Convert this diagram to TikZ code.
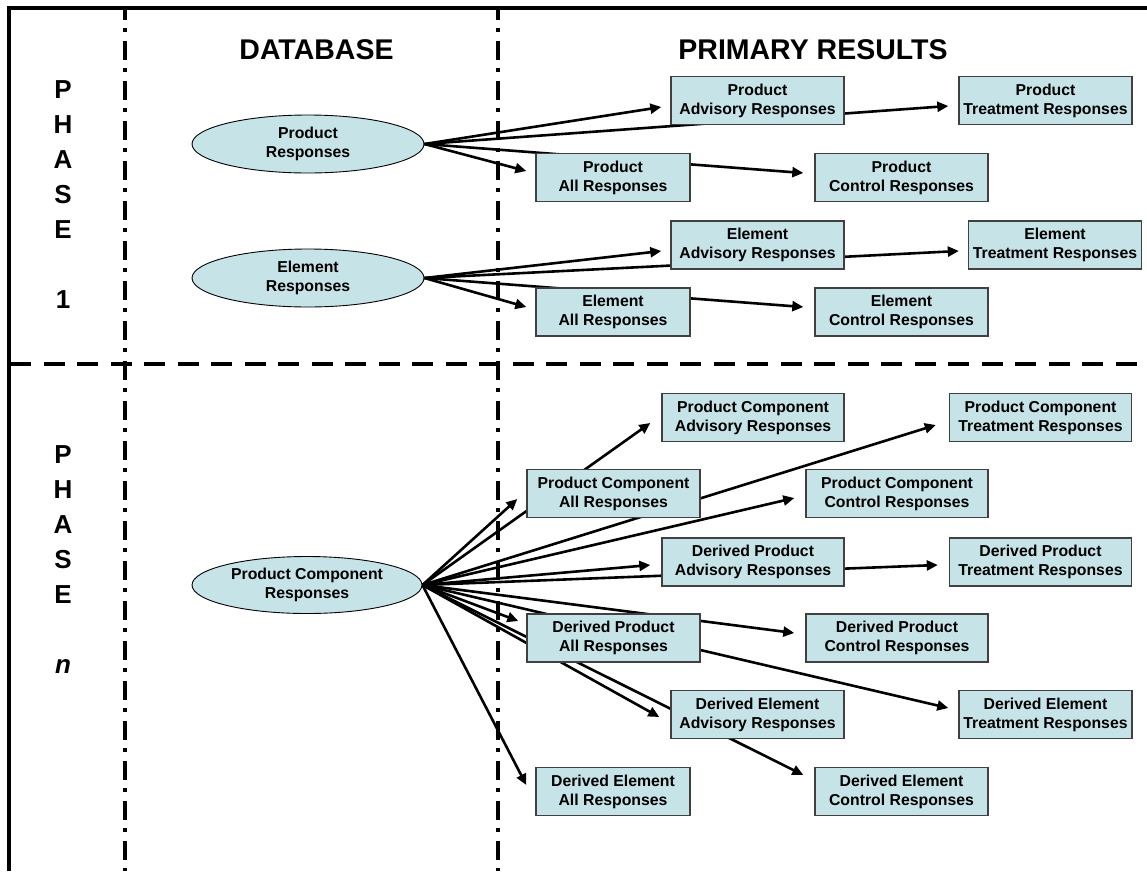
\documentclass[tikz,border=0pt]{standalone}
\usepackage{fontspec}
\setmainfont{Liberation Sans}
\usetikzlibrary{arrows.meta,shapes.geometric}
\definecolor{cellfill}{RGB}{198,228,232}
\definecolor{celledge}{RGB}{64,64,64}
\pgfdeclarelayer{back}
\pgfsetlayers{back,main}
\newcommand{\cellfont}{\fontsize{15.8}{19}\selectfont\bfseries}
\newcommand{\headfont}{\fontsize{28.5}{32}\selectfont\bfseries}
\newcommand{\phasefont}{\fontsize{26}{30}\selectfont\bfseries}

\begin{document}
\begin{tikzpicture}[x=1pt,y=-1pt,
  rbox/.style={draw=celledge,line width=1.4pt,fill=cellfill,minimum height=48pt,
               inner sep=0pt,align=center,font=\cellfont},
  wa/.style={minimum width=173pt},
  wb/.style={minimum width=154pt},
  wc/.style={minimum width=182pt},
  src/.style={ellipse,draw=black,line width=0.9pt,fill=cellfill,inner sep=0pt,
              minimum width=232pt,minimum height=58pt,align=center,font=\cellfont},
  arr/.style={line width=2.6pt,-{Triangle[length=11pt,width=10pt]}},
  head/.style={font=\headfont,anchor=base,inner sep=0pt},
  phasechar/.style={font=\phasefont,anchor=base,inner sep=0pt},
  dashdot/.style={line width=4pt,dash pattern=on 19pt off 8.5pt on 4pt off 8.5pt,dash phase=7.5pt},
  split/.style={line width=4pt,dash pattern=on 21pt off 12.5pt}
]
\useasboundingbox (0,0) rectangle (1147,871);

% frame and column / row separators
\begin{pgfonlayer}{back}
  \draw[line width=4.5pt] (9,871) -- (9,8) -- (1147,8);
  \draw[dashdot] (125,8) -- (125,871);
  \draw[dashdot] (498,8) -- (498,871);
  \draw[split] (10,363.5) -- (1147,363.5);
\end{pgfonlayer}

% headings
\node[head] (hdb) at (316.5,59) {DATABASE};
\node[head] (hpr) at (813,59) {PRIMARY RESULTS};

% phase labels
\foreach \c/\yy [count=\i] in {P/98,H/133,A/168,S/203,E/238,1/308}
  \node[phasechar] (pone\i) at (63,\yy) {\c};
\foreach \c/\yy [count=\i] in {P/463,H/498,A/533,S/568,E/603}
  \node[phasechar] (pn\i) at (63,\yy) {\c};
\node[phasechar] (pn6) at (63,673) {\itshape n};

% phase 1 sources
\node[src] (pr) at (308,144) {Product\\Responses};
\node[src] (er) at (308,278) {Element\\Responses};

% phase 1 results
\node[rbox,wa] (padv) at (757.5,100.5) {Product\\Advisory Responses};
\node[rbox,wa] (ptr)  at (1045.5,100.5) {Product\\Treatment Responses};
\node[rbox,wb] (pall) at (613,177.5) {Product\\All Responses};
\node[rbox,wa] (pctl) at (901.5,177.5) {Product\\Control Responses};
\node[rbox,wa] (eadv) at (757.5,245) {Element\\Advisory Responses};
\node[rbox,wa] (etr)  at (1055,245) {Element\\Treatment Responses};
\node[rbox,wb] (eall) at (613,312) {Element\\All Responses};
\node[rbox,wa] (ectl) at (901.5,312) {Element\\Control Responses};

% phase n source
\node[src,minimum width=230pt,minimum height=57pt] (pc) at (307,585) {Product Component\\Responses};

% phase n results
\node[rbox,wc] (pcadv) at (753,417.5) {Product Component\\Advisory Responses};
\node[rbox,wc] (pctr)  at (1040.5,417.5) {Product Component\\Treatment Responses};
\node[rbox,wa] (pcall) at (613.5,493.5) {Product Component\\All Responses};
\node[rbox,wc] (pcctl) at (897,493.5) {Product Component\\Control Responses};
\node[rbox,wc] (dpadv) at (753,562) {Derived Product\\Advisory Responses};
\node[rbox,wc] (dptr)  at (1040.5,562) {Derived Product\\Treatment Responses};
\node[rbox,wa] (dpall) at (613.5,638) {Derived Product\\All Responses};
\node[rbox,wc] (dpctl) at (897,638) {Derived Product\\Control Responses};
\node[rbox,wa] (deadv) at (757.5,714.5) {Derived Element\\Advisory Responses};
\node[rbox,wa] (detr)  at (1045.5,714.5) {Derived Element\\Treatment Responses};
\node[rbox,wb] (deall) at (613,791.5) {Derived Element\\All Responses};
\node[rbox,wa] (dectl) at (901.5,791.5) {Derived Element\\Control Responses};

% connectors run beneath the boxes
\begin{pgfonlayer}{back}
  \draw[arr] (pr.east) -- ([shift={(-9,6.5)}]padv.west);
  \draw[arr] (pr.east) -- ([shift={(-10,5.5)}]ptr.west);
  \draw[arr] (pr.east) -- ([shift={(-9,-6.5)}]pall.west);
  \draw[arr] (pr.east) -- ([shift={(-11,-4.5)}]pctl.west);

  \draw[arr] (er.east) -- ([shift={(-9,6)}]eadv.west);
  \draw[arr] (er.east) -- ([shift={(-9,6)}]etr.west);
  \draw[arr] (er.east) -- ([shift={(-9,-5)}]eall.west);
  \draw[arr] (er.east) -- ([shift={(-11,-5)}]ectl.west);

  \draw[arr] (pc.east) -- ([shift={(-11,5.5)}]pcadv.west);
  \draw[arr] (pc.east) -- ([shift={(-13,7.5)}]pctr.west);
  \draw[arr] (pc.east) -- ([shift={(-9,5.5)}]pcall.west);
  \draw[arr] (pc.east) -- ([shift={(-11,4.5)}]pcctl.west);
  \draw[arr] (pc.east) -- ([shift={(-11,3)}]dpadv.west);
  \draw[arr] (pc.east) -- ([shift={(-11,3)}]dptr.west);
  \draw[arr] (pc.east) -- ([shift={(-8,-17)}]dpall.west);
  \draw[arr] (pc.east) -- ([shift={(-11,-5)}]dpctl.west);
  \draw[arr] (pc.east) -- ([shift={(-11,2.5)}]deadv.west);
  \draw[arr] (pc.east) -- ([shift={(-10,-6.5)}]detr.west);
  \draw[arr] (pc.east) -- ([shift={(-9,-6.5)}]deall.west);
  \draw[arr] (pc.east) -- ([shift={(-11,-16.5)}]dectl.west);
\end{pgfonlayer}
\end{tikzpicture}
\end{document}
